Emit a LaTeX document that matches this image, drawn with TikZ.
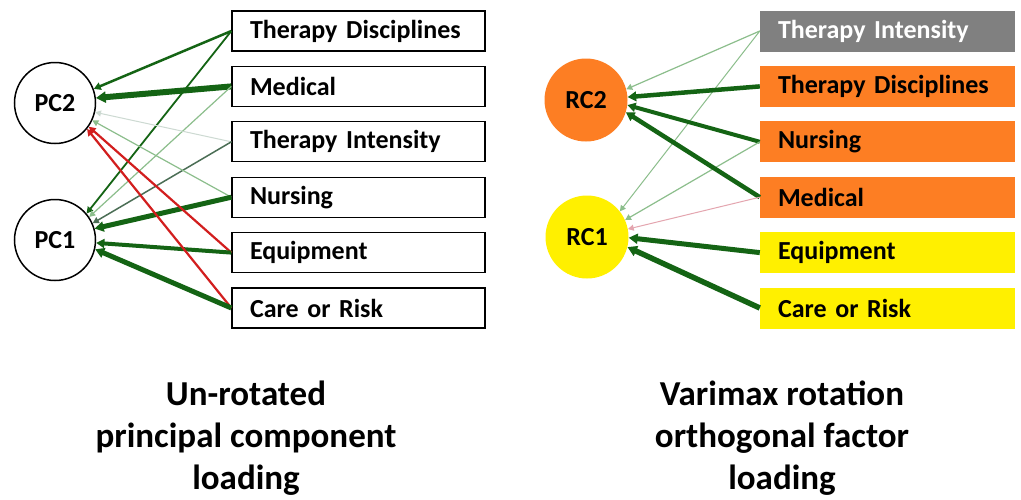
\documentclass[tikz,border=0pt]{standalone}
\usepackage{fontspec}
\setmainfont{Carlito}
\usetikzlibrary{arrows.meta}

\definecolor{dkgreen}{RGB}{20,100,20}
\definecolor{ltgreen}{RGB}{140,190,140}
\definecolor{paleline}{RGB}{205,218,210}
\definecolor{grgreen}{RGB}{75,110,85}
\definecolor{redline}{RGB}{210,30,30}
\definecolor{pinkline}{RGB}{228,165,175}
\definecolor{boxorange}{RGB}{253,126,35}
\definecolor{boxyellow}{RGB}{255,240,0}
\definecolor{boxgray}{RGB}{128,128,128}

\begin{document}
\begin{tikzpicture}[x=1pt,y=-1pt,
    var/.style={minimum height=40pt, inner xsep=18pt, text width=217pt, align=left,
        font=\bfseries\fontsize{26}{30}\selectfont},
    lvar/.style={var, draw, line width=1.3pt, fill=white},
    fac/.style={circle, minimum size=81pt, inner sep=0pt, font=\bfseries\fontsize{26}{30}\selectfont},
    load/.style={-{Triangle[length=5pt 0.8, width=5pt 1]}},
    caption/.style={align=center, anchor=base, font=\bfseries\fontsize{35}{42}\selectfont}]
    \useasboundingbox[fill=white] (0,0) rectangle (1021,499);
    %unrotated
    \foreach \n/\t [count=\i] in {td/Therapy Disciplines, med/Medical, ti/Therapy Intensity,
        nur/Nursing, equ/Equipment, car/Care or Risk}
        \node[lvar] (\n) at ({358.5},{31+55.4*(\i-1)}) {\t};
    \node[fac, draw, line width=1.5pt] (pc2) at (55,103) {PC2};
    \node[fac, draw, line width=1.5pt] (pc1) at (55,240) {PC1};
    \draw[load, dkgreen, line width=2.5pt] (td.west) -- (pc2.20);
    \draw[load, dkgreen, line width=1.8pt] (td.west) -- (pc1.40);
    \draw[load, dkgreen, line width=6pt] (med.west) -- (pc2.7);
    \draw[load, ltgreen, line width=1.2pt] (med.west) -- (pc1.34);
    \draw[load, paleline, line width=1pt] (ti.west) -- (pc2.-13);
    \draw[load, grgreen, line width=1.5pt] (ti.west) -- (pc1.24);
    \draw[load, ltgreen, line width=1.2pt] (nur.west) -- (pc2.-25);
    \draw[load, dkgreen, line width=5pt] (nur.west) -- (pc1.16);
    \draw[load, redline, line width=2.2pt] (equ.west) -- (pc2.-35);
    \draw[load, dkgreen, line width=4pt] (equ.west) -- (pc1.-4);
    \draw[load, redline, line width=2.2pt] (car.west) -- (pc2.-39);
    \draw[load, dkgreen, line width=5pt] (car.west) -- (pc1.-13);
    \node[caption] (cap1) at (246,489) {Un-rotated\\principal component\\loading};
    %varimax
    \foreach \n/\t/\c/\f [count=\i] in {rti/Therapy Intensity/boxgray/white,
        rtd/Therapy Disciplines/boxorange/black, rnur/Nursing/boxorange/black,
        rmed/Medical/boxorange/black, requ/Equipment/boxyellow/black,
        rcar/Care or Risk/boxyellow/black}
        \node[var, fill=\c, text=\f, minimum height=41pt, text width=219pt] (\n) at ({887.5},{31+55.4*(\i-1)}) {\t};
    \node[fac, fill=boxorange, minimum size=83pt] (rc2) at (586,100) {RC2};
    \node[fac, fill=boxyellow, minimum size=83pt] (rc1) at (587,237) {RC1};
    \draw[load, ltgreen, line width=1.2pt] (rti.west) -- (rc2.15);
    \draw[load, ltgreen, line width=1pt] (rti.west) -- (rc1.38);
    \draw[load, dkgreen, line width=4.5pt] (rtd.west) -- (rc2.4);
    \draw[load, dkgreen, line width=4pt] (rnur.west) -- (rc2.-7);
    \draw[load, ltgreen, line width=1.2pt] (rnur.west) -- (rc1.24);
    \draw[load, dkgreen, line width=4.5pt] (rmed.west) -- (rc2.-17);
    \draw[load, pinkline, line width=1pt] (rmed.west) -- (rc1.11);
    \draw[load, dkgreen, line width=5pt] (requ.west) -- (rc1.-1);
    \draw[load, dkgreen, line width=5.5pt] (rcar.west) -- (rc1.-14);
    \node[caption] (cap2) at (782,489) {Varimax rotation\\orthogonal factor\\loading};
\end{tikzpicture}
\end{document}
